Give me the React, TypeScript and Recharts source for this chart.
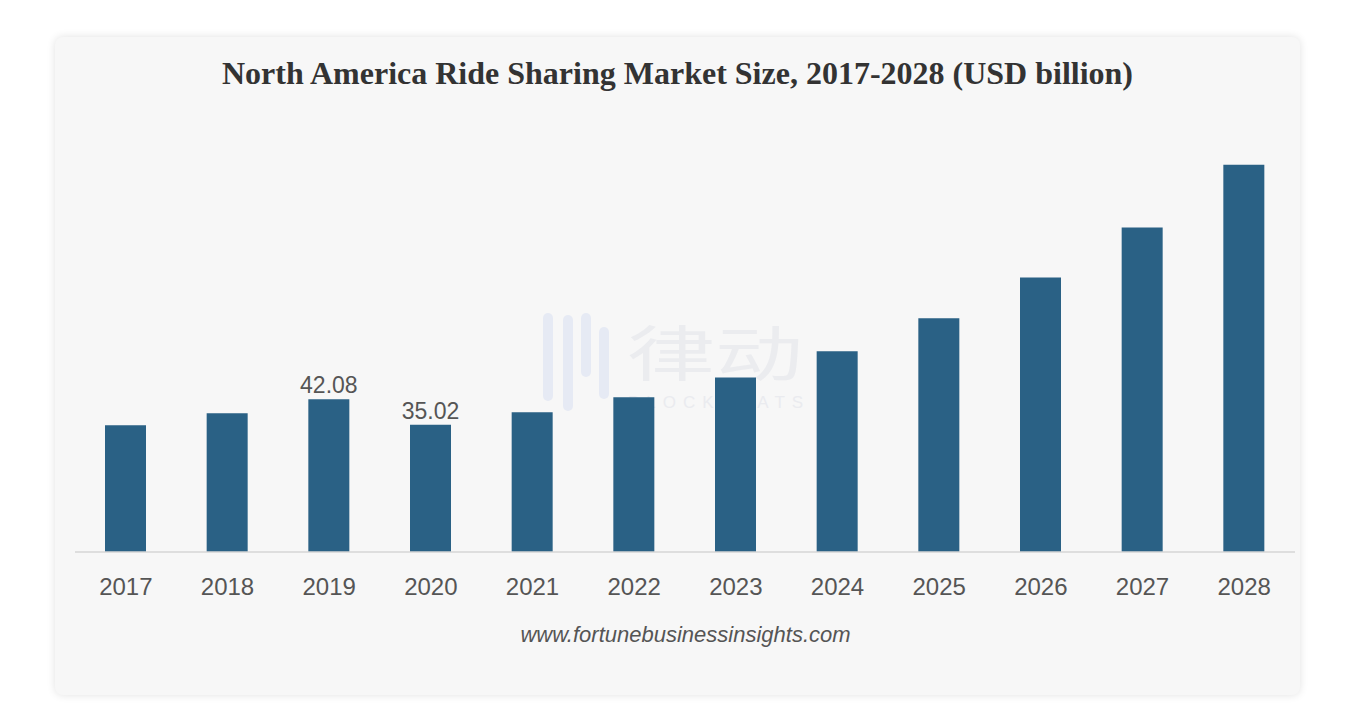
import React from "react";
import { BarChart, Bar, XAxis, YAxis, LabelList } from "recharts";

const years = ["2017", "2018", "2019", "2020", "2021", "2022", "2023", "2024", "2025", "2026", "2027", "2028"];
const marketSize = [34.9, 38.2, 42.08, 35.02, 38.5, 42.6, 48.1, 55.3, 64.4, 75.6, 89.4, 106.7];
const shownLabels = [null, null, "42.08", "35.02", null, null, null, null, null, null, null, null];

const data = years.map((year, i) => ({ year, value: marketSize[i], label: shownLabels[i] }));

// faint watermark icon strokes (left, top, height) inside the card
const markStrokes = [
    [488, 276, 88],
    [508, 278, 96],
    [526, 276, 64],
    [544, 290, 72],
];

const YearTick = (props: any) => {
    const { x, y, payload } = props;
    return (
        <text x={x} y={y + 26} textAnchor="middle" dominantBaseline="central" fill="#555" fontSize={24}
            fontFamily="'Liberation Sans', Arial, sans-serif">
            {payload.value}
        </text>
    );
};

const App: React.FC = () => (
    <div style={{ position: "relative", width: 1358, height: 726, margin: -8, background: "#fff", overflow: "hidden" }}>
        <div style={{
            position: "absolute", left: 55, top: 37, width: 1245, height: 658, background: "#f7f7f7",
            borderRadius: 8, boxShadow: "0 0 8px rgba(0,0,0,0.12)",
        }}>
            <div style={{
                position: "absolute", left: 0, right: 0, top: 18, textAlign: "center",
                fontFamily: "'Liberation Serif', 'Times New Roman', serif", fontWeight: "bold", fontSize: 32, color: "#333",
            }}>
                North America Ride Sharing Market Size, 2017-2028 (USD billion)
            </div>
            {markStrokes.map(([l, t, h], i) => (
                <div key={i} style={{ position: "absolute", left: l, top: t, width: 10, height: h, borderRadius: 5, background: "#e6eaf4" }} />
            ))}
            <div style={{
                position: "absolute", left: 572, top: 283, lineHeight: 1, color: "#ebecef",
                fontFamily: "'Noto Sans CJK SC', sans-serif", fontSize: 88,
                transform: "scaleY(0.68)", transformOrigin: "top left",
            }}>
                律动
            </div>
            <div style={{ position: "absolute", left: 573, top: 357, lineHeight: 1, color: "#eaebef", fontFamily: "'Liberation Sans', Arial, sans-serif", fontSize: 17, letterSpacing: 7 }}>
                BLOCKBEATS
            </div>
            <BarChart width={1245} height={658} data={data} margin={{ top: 83, right: 5, left: 20, bottom: 83 }}>
                <XAxis dataKey="year" axisLine={{ stroke: "#d6d6d6", strokeWidth: 1.5 }} tickLine={false} tick={<YearTick />} height={60} interval={0} />
                <YAxis hide domain={[0, 119]} />
                <Bar dataKey="value" fill="#2a6185" barSize={41} isAnimationActive={false}>
                    <LabelList dataKey="label" position="top" offset={6} fill="#555" fontSize={23}
                        fontFamily="'Liberation Sans', Arial, sans-serif" />
                </Bar>
            </BarChart>
            <div style={{
                position: "absolute", left: 16, right: 0, top: 585, textAlign: "center",
                fontFamily: "'Liberation Sans', Arial, sans-serif", fontStyle: "italic", fontSize: 22, color: "#555",
            }}>
                www.fortunebusinessinsights.com
            </div>
        </div>
    </div>
);

export default App;
